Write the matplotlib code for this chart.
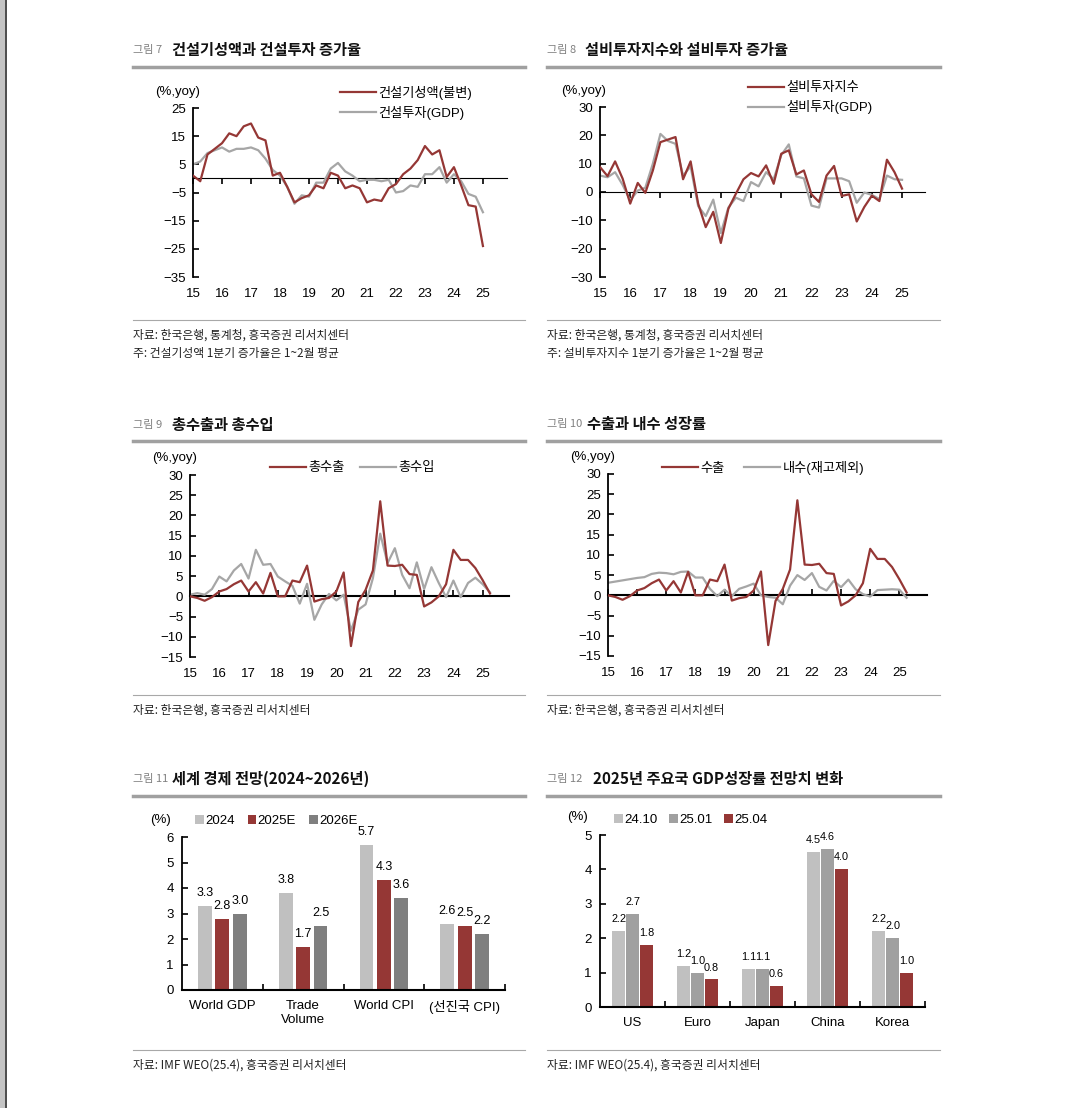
import numpy as np
import matplotlib
matplotlib.use('Agg')
import matplotlib.pyplot as plt
from matplotlib.patches import Rectangle
from matplotlib.lines import Line2D

plt.rcParams['font.family'] = ['Liberation Sans', 'Noto Sans CJK KR']
plt.rcParams['axes.unicode_minus'] = True

W, H = 1071, 1108
RED = '#953735'
GRAY = '#a6a6a6'
FS = 9.5

# ---- data ----
year_ticks = list(range(15, 26))
qtr_41 = 15 + np.arange(41) / 4      # 15Q1 ~ 25Q1
qtr_42 = 15 + np.arange(42) / 4      # 15Q1 ~ 25Q2

con_output = [1, -1, 8.5, 10.5, 12.5, 16, 15, 18.5, 19.5, 14.5, 13.5, 1,
              2, -3, -8.5, -7, -6, -2.5, -3.5, 2, 1, -3.5, -2.5, -3.5,
              -8.5, -7.5, -8, -3.5, -2, 1.5, 3.5, 6.5, 11.5, 8.5, 10, 0.5,
              4, -2.5, -9.5, -10, -24]
con_inv = [5, 6, 9, 10, 11, 9.5, 10.5, 10.5, 11, 10, 7, 3,
           1, -3, -9, -6, -6.5, -1.5, -1.5, 3.5, 5.5, 2.5, 1, -1,
           -0.5, -0.5, -1, -0.5, -5, -4.5, -2.5, -3, 1.5, 1.5, 4, -1.5,
           1.5, -1, -5.5, -6.5, -12]

fac_index = [8.8, 5.6, 10.8, 4.7, -4.1, 3.2, -0.3, 7.6, 17.6, 18.5, 19.4, 4.5,
             10.8, -4.1, -12.4, -7, -18, -5.9, -0.6, 4.5, 6.7, 5.5, 9.4, 2.9,
             13.5, 14.7, 6.2, 7.6, -0.8, -3.5, 5.8, 9.2, -1.4, -0.8, -10.4, -5.3,
             -1.3, -3.2, 11.4, 7, 1.2]
fac_inv = [5.8, 5.2, 7, 2.5, -3, 0.5, 1.5, 10, 20.5, 18, 17, 5.8,
           9, -5, -8.5, -2.7, -14.5, -5.5, -2, -3.2, 3.5, 2, 7, 4.5,
           13, 16.8, 5.5, 4.8, -4.8, -5.5, 4.8, 4.8, 4.8, 3.8, -3.8, -0.2,
           -1, -2.5, 5.8, 4.5, 4.3]

exports = [0, -0.4, -1.1, -0.2, 1.2, 1.8, 3, 3.9, 1.2, 3.5, 0.7, 5.8,
           0, 0, 3.9, 3.5, 7.6, -1.3, -0.7, -0.4, 1.2, 5.9, -12.3, -1.4,
           1.6, 6.4, 23.5, 7.6, 7.5, 7.8, 5.5, 5.3, -2.5, -1.5, 0, 3,
           11.5, 9, 9, 7, 4, 0.7]
imports = [0.4, 0.8, 0.4, 1.8, 4.9, 3.7, 6.4, 8, 4.4, 11.5, 7.8, 8,
           4.9, 3.7, 2.6, -1.8, 3.1, -5.8, -2, 0.6, -1, 0.4, -8.5, -3.3,
           -2, 4.5, 15.5, 8.2, 11.9, 5.3, 2, 8.4, 1.8, 7.2, 3.3, -0.2,
           3.9, -0.2, 3.3, 4.6, 3, 1.0]
domestic = [3.1, 3.4, 3.7, 4.0, 4.3, 4.5, 5.3, 5.6, 5.5, 5.2, 5.8, 5.9,
            4.4, 4.4, 1.6, -0.2, 1.4, -0.2, 1.6, 2.2, 2.9, 0, -0.4, -0.6,
            -2.2, 2.4, 5.0, 3.8, 5.5, 2.1, 1.2, 3.6, 2.0, 3.9, 1.5, 0.3,
            -0.3, 1.3, 1.4, 1.5, 1.4, -0.6]

weo_cats = ['World GDP', 'Trade\nVolume', 'World CPI', '(선진국 CPI)']
weo_names = ['2024', '2025E', '2026E']
weo_vals = [[3.3, 3.8, 5.7, 2.6],
            [2.8, 1.7, 4.3, 2.5],
            [3.0, 2.5, 3.6, 2.2]]

gdp_cats = ['US', 'Euro', 'Japan', 'China', 'Korea']
gdp_names = ['24.10', '25.01', '25.04']
gdp_vals = [[2.2, 1.2, 1.1, 4.5, 2.2],
            [2.7, 1.0, 1.1, 4.6, 2.0],
            [1.8, 0.8, 0.6, 4.0, 1.0]]

fig = plt.figure(figsize=(W / 100, H / 100), dpi=100)


def fx(x):
    return x / W


def fy(y):
    return 1 - y / H


def add_axes(left, right, top, bottom):
    return fig.add_axes([fx(left), fy(bottom), fx(right - left), (bottom - top) / H])


def header(x0, x1, y_title, num, title, title_x, y_line, y_bot, sources):
    fig.text(fx(x0), fy(y_title), num, fontsize=8, color='#808080',
             va='center', family=['Noto Sans CJK KR'])
    fig.text(fx(title_x), fy(y_title), title, fontsize=11, fontweight='bold',
             va='center', family=['Noto Sans CJK KR'], color='#111111')
    fig.add_artist(Line2D([fx(x0), fx(x1)], [fy(y_line), fy(y_line)],
                          color='#a0a0a0', lw=2.5))
    fig.add_artist(Line2D([fx(x0), fx(x1)], [fy(y_bot), fy(y_bot)],
                          color='#a8a8a8', lw=0.8))
    for k, s in enumerate(sources):
        fig.text(fx(x0), fy(y_bot + 15 + k * 19), s, fontsize=8.5, va='center',
                 color='#222222', family=['Noto Sans CJK KR'])


def line_panel(ax, xs, s1, s2, ylim, yticks, xmax, lab1, lab2, leg_xy, ncol, colsp):
    ax.plot(xs, s1, color=RED, lw=1.6, zorder=3, label=lab1)
    ax.plot(xs, s2, color=GRAY, lw=1.6, zorder=2, label=lab2)
    ax.set_xlim(15, xmax)
    ax.set_ylim(*ylim)
    ax.set_yticks(yticks)
    ax.set_xticks(year_ticks)
    for sp in ['top', 'right', 'bottom']:
        ax.spines[sp].set_visible(False)
    ax.spines['left'].set_linewidth(1.3)
    ax.tick_params(axis='y', direction='in', length=4, width=1.2, labelsize=FS, pad=5)
    ax.tick_params(axis='x', length=0, labelsize=FS, pad=8)
    ax.patch.set_alpha(0)
    frac = (0 - ylim[0]) / (ylim[1] - ylim[0])
    sec = ax.secondary_xaxis(frac)
    sec.set_xticks(year_ticks)
    sec.set_xticklabels([])
    sec.tick_params(direction='in', length=4, width=1.2)
    sec.spines['bottom'].set_linewidth(1.5)
    ax.text(-0.12, 1.06, '(%,yoy)', transform=ax.transAxes, fontsize=FS,
            ha='left', va='bottom')
    ax.legend(loc='upper left', bbox_to_anchor=(fx(leg_xy[0]), fy(leg_xy[1])),
              bbox_transform=fig.transFigure, frameon=False, ncol=ncol,
              fontsize=FS, handlelength=2.7, handletextpad=0.2,
              labelspacing=0.45, columnspacing=colsp, borderaxespad=0,
              borderpad=0)


def bar_panel(ax, cats, names, vals, colors, ylim, leg_xy, wfrac, colsp, lab_fs):
    x = np.arange(len(cats)) + 0.5
    n = len(names)
    step = 0.215
    for k in range(n):
        pos = x + (k - (n - 1) / 2) * step
        bars = ax.bar(pos, vals[k], width=step * wfrac,
                      color=colors[k], label=names[k], zorder=2)
        for b, v in zip(bars, vals[k]):
            ax.annotate(f'{v:.1f}', (b.get_x() + b.get_width() / 2, v),
                        xytext=(0, 5), textcoords='offset points',
                        ha='center', va='bottom', fontsize=lab_fs)
    ax.set_xlim(0, len(cats))
    ax.set_ylim(*ylim)
    ax.set_yticks(range(ylim[0], ylim[1] + 1))
    ax.set_xticks(x)
    ax.set_xticklabels(cats)
    ax.set_xticks(np.arange(1, len(cats) + 1), minor=True)
    for sp in ['top', 'right']:
        ax.spines[sp].set_visible(False)
    ax.spines['left'].set_linewidth(1.3)
    ax.spines['bottom'].set_linewidth(1.5)
    ax.tick_params(axis='y', direction='in', length=4, width=1.2, labelsize=FS, pad=6)
    ax.tick_params(axis='x', which='major', length=0, labelsize=FS, pad=7)
    ax.tick_params(axis='x', which='minor', direction='in', length=4, width=1.2)
    ax.text(-0.1, 1.07, '(%)', transform=ax.transAxes, fontsize=FS,
            ha='left', va='bottom')
    ax.legend(loc='upper left', bbox_to_anchor=(fx(leg_xy[0]), fy(leg_xy[1])),
              bbox_transform=fig.transFigure, frameon=False, ncol=3,
              fontsize=FS, handlelength=0.65, handleheight=0.65,
              handletextpad=0.1, columnspacing=colsp, borderaxespad=0, borderpad=0)


# page border on the left
fig.add_artist(Rectangle((0, 0), fx(5), 1, transform=fig.transFigure,
                         color='#c4c4c4', lw=0))
fig.add_artist(Rectangle((fx(5), 0), fx(2), 1, transform=fig.transFigure,
                         color='#505050', lw=0))

# ---- 그림 7 ----
header(133, 525, 50, '그림 7', '건설기성액과 건설투자 증가율', 172, 67, 320,
       ['자료: 한국은행, 통계청, 흥국증권 리서치센터',
        '주: 건설기성액 1분기 증가율은 1~2월 평균'])
ax1 = add_axes(193, 507, 108, 277)
line_panel(ax1, qtr_41, con_output, con_inv, (-35, 25), range(-35, 26, 10),
           25.83, '건설기성액(불변)', '건설투자(GDP)', (340, 86), 1, 1.5)

# ---- 그림 8 ----
header(547, 940, 50, '그림 8', '설비투자지수와 설비투자 증가율', 585, 67, 320,
       ['자료: 한국은행, 통계청, 흥국증권 리서치센터',
        '주: 설비투자지수 1분기 증가율은 1~2월 평균'])
ax2 = add_axes(600, 925, 107, 277)
line_panel(ax2, qtr_41, fac_index, fac_inv, (-30, 30), range(-30, 31, 10),
           25.76, '설비투자지수', '설비투자(GDP)', (748, 82), 1, 1.5)

# ---- 그림 9 ----
header(133, 525, 425, '그림 9', '총수출과 총수입', 172, 441, 695,
       ['자료: 한국은행, 흥국증권 리서치센터'])
ax3 = add_axes(190, 509, 475, 657)
line_panel(ax3, qtr_42, exports, imports, (-15, 30), range(-15, 31, 5),
           25.9, '총수출', '총수입', (270, 462), 2, 1.2)

# ---- 그림 10 ----
header(547, 940, 424, '그림 10', '수출과 내수 성장률', 587, 441, 695,
       ['자료: 한국은행, 흥국증권 리서치센터'])
ax4 = add_axes(608, 927, 474, 656)
line_panel(ax4, qtr_42, exports, domestic, (-15, 30), range(-15, 31, 5),
           25.95, '수출', '내수(재고제외)', (662, 461), 2, 1.5)

# ---- 그림 11 ----
header(133, 525, 779, '그림 11', '세계 경제 전망(2024~2026년)', 172, 796, 1050,
       ['자료: IMF WEO(25.4), 흥국증권 리서치센터'])
ax5 = add_axes(182, 505, 837, 990)
bar_panel(ax5, weo_cats, weo_names, weo_vals, ['#c0c0c0', RED, '#7f7f7f'],
          (0, 6), (195, 815), 0.8, 1.0, 9)

# ---- 그림 12 ----
header(547, 940, 779, '그림 12', '2025년 주요국 GDP성장률 전망치 변화', 593, 796, 1050,
       ['자료: IMF WEO(25.4), 흥국증권 리서치센터'])
ax6 = add_axes(600, 925, 835, 1007)
bar_panel(ax6, gdp_cats, gdp_names, gdp_vals, ['#c0c0c0', '#a0a0a0', RED],
          (0, 5), (614, 814), 0.97, 0.9, 7.8)

fig.savefig('out.png', dpi=100)
